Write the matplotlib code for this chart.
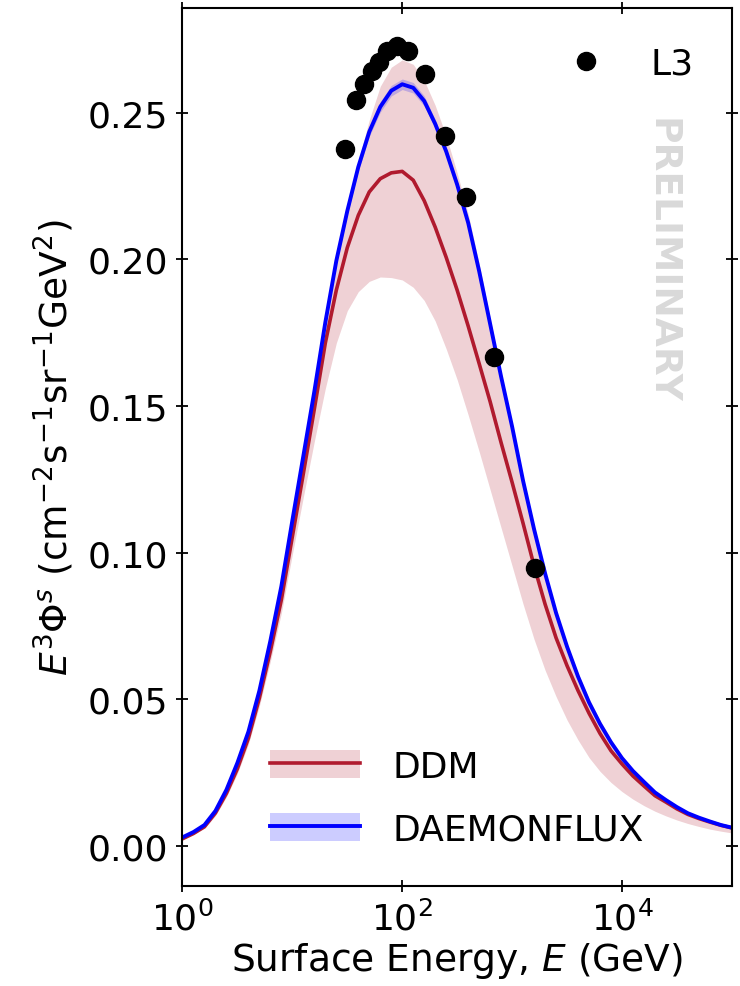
import numpy as np
import matplotlib
matplotlib.use("Agg")
import matplotlib.pyplot as plt
from matplotlib.patches import Patch
from matplotlib.lines import Line2D

# Surface energy grid (GeV), 10 points per decade
energy = [1.0, 1.259, 1.585, 1.995, 2.512, 3.162, 3.981, 5.012, 6.310, 7.943,
          10.0, 12.59, 15.85, 19.95, 25.12, 31.62, 39.81, 50.12, 63.10, 79.43,
          100.0, 125.9, 158.5, 199.5, 251.2, 316.2, 398.1, 501.2, 631.0, 794.3,
          1000.0, 1259.0, 1585.0, 1995.0, 2512.0, 3162.0, 3981.0, 5012.0, 6310.0, 7943.0,
          10000.0, 12590.0, 15850.0, 19950.0, 25120.0, 31620.0, 39810.0, 50120.0, 63100.0, 79430.0,
          100000.0]

# DAEMONFLUX central value
daemon = [0.0030, 0.0048, 0.0072, 0.0120, 0.0192, 0.0284, 0.0390, 0.0530, 0.0700, 0.0886,
          0.1110, 0.1330, 0.1550, 0.1785, 0.1995, 0.2165, 0.2315, 0.2435, 0.2520, 0.2575,
          0.2597, 0.2585, 0.2540, 0.2462, 0.2368, 0.2255, 0.2125, 0.1960, 0.1780, 0.1600,
          0.1430, 0.1245, 0.1080, 0.0930, 0.0795, 0.0680, 0.0578, 0.0490, 0.0417, 0.0354,
          0.0300, 0.0256, 0.0219, 0.0183, 0.0157, 0.0133, 0.0112, 0.0097, 0.0084, 0.0072,
          0.0063]
# DAEMONFLUX band half-width
daemon_err = [0.0003, 0.0004, 0.0005, 0.0006, 0.0006, 0.0007, 0.0007, 0.0008, 0.0008, 0.0008,
              0.0009, 0.0009, 0.0010, 0.0011, 0.0012, 0.0013, 0.0014, 0.0016, 0.0018, 0.0018,
              0.0018, 0.0018, 0.0017, 0.0015, 0.0013, 0.0012, 0.0011, 0.0010, 0.0009, 0.0009,
              0.0008, 0.0008, 0.0007, 0.0007, 0.0006, 0.0006, 0.0005, 0.0005, 0.0005, 0.0004,
              0.0004, 0.0004, 0.0004, 0.0003, 0.0003, 0.0003, 0.0003, 0.0003, 0.0003, 0.0003,
              0.0003]

# DDM central value
ddm = [0.0025, 0.0043, 0.0066, 0.0113, 0.0180, 0.0264, 0.0368, 0.0505, 0.0665, 0.0840,
       0.1055, 0.1270, 0.1490, 0.1715, 0.1895, 0.2040, 0.2150, 0.2230, 0.2275, 0.2295,
       0.2300, 0.2270, 0.2200, 0.2110, 0.2007, 0.1895, 0.1773, 0.1645, 0.1515, 0.1375,
       0.1240, 0.1100, 0.0955, 0.0825, 0.0710, 0.0615, 0.0530, 0.0453, 0.0384, 0.0325,
       0.0280, 0.0239, 0.0205, 0.0172, 0.0150, 0.0127, 0.0108, 0.0094, 0.0082, 0.0071,
       0.0062]
# DDM band lower / upper edges
ddm_lo = [0.0023, 0.0040, 0.0061, 0.0104, 0.0168, 0.0248, 0.0348, 0.0478, 0.0630, 0.0795,
          0.0995, 0.1190, 0.1380, 0.1560, 0.1715, 0.1825, 0.1890, 0.1925, 0.1940, 0.1938,
          0.1930, 0.1905, 0.1860, 0.1790, 0.1695, 0.1590, 0.1470, 0.1345, 0.1215, 0.1085,
          0.0955, 0.0825, 0.0705, 0.0600, 0.0510, 0.0430, 0.0362, 0.0302, 0.0255, 0.0217,
          0.0186, 0.0160, 0.0138, 0.0119, 0.0103, 0.0089, 0.0077, 0.0067, 0.0058, 0.0051,
          0.0045]
ddm_hi = [0.0029, 0.0047, 0.0071, 0.0120, 0.0190, 0.0280, 0.0386, 0.0523, 0.0693, 0.0875,
          0.1100, 0.1320, 0.1540, 0.1775, 0.1990, 0.2175, 0.2335, 0.2475, 0.2590, 0.2655,
          0.2680, 0.2665, 0.2610, 0.2525, 0.2420, 0.2295, 0.2155, 0.1985, 0.1800, 0.1615,
          0.1440, 0.1255, 0.1090, 0.0940, 0.0805, 0.0690, 0.0590, 0.0502, 0.0428, 0.0364,
          0.0308, 0.0263, 0.0224, 0.0188, 0.0160, 0.0136, 0.0115, 0.0099, 0.0086, 0.0074,
          0.0065]

# L3 data
l3_energy = [30.1, 37.9, 45.1, 52.7, 61.8, 73.0, 90.0, 113.4, 160.9, 244.5, 379.0, 682.0, 1611.0]
l3_flux = [0.2376, 0.2544, 0.2598, 0.2643, 0.2672, 0.2711, 0.2726, 0.2709, 0.2632,
           0.2421, 0.2211, 0.1667, 0.0948]

xticks = [1, 100, 10000]
xticklabels = [r"$10^0$", r"$10^2$", r"$10^4$"]
yticks = [0.00, 0.05, 0.10, 0.15, 0.20, 0.25]

red = "#b01a2e"
blue = "#0000ff"

fig = plt.figure(figsize=(7.4, 9.87), dpi=100)
ax = fig.add_axes([0.2466, 0.1013, 0.7424, 0.8896])

d = np.array(daemon)
de = np.array(daemon_err)
ax.fill_between(energy, ddm_lo, ddm_hi, color=red, alpha=0.2, lw=0)
ax.fill_between(energy, d - de, d + de, color=blue, alpha=0.2, lw=0)
ax.plot(energy, ddm, color=red, lw=2.6)
ax.plot(energy, daemon, color=blue, lw=2.8)
pts, = ax.plot(l3_energy, l3_flux, 'o', color='black', ms=13, ls='none')

ax.set_xscale('log')
ax.set_xlim(1, 1e5)
ax.set_ylim(-0.0136, 0.2857)
ax.set_xticks(xticks)
ax.set_xticklabels(xticklabels)
ax.xaxis.set_minor_locator(matplotlib.ticker.NullLocator())
ax.set_yticks(yticks)
ax.set_yticklabels([f"{v:.2f}" for v in yticks])
ax.tick_params(axis='both', which='major', direction='inout', length=9, width=1.3,
               labelsize=26, top=True, right=True, pad=6)
for s in ax.spines.values():
    s.set_linewidth(1.5)

ax.set_xlabel(r"Surface Energy, $E$ (GeV)", fontsize=27, labelpad=2)
ax.set_ylabel(r"$E^3\Phi^s$ (cm$^{-2}$s$^{-1}$sr$^{-1}$GeV$^2$)", fontsize=27, labelpad=8)

h_ddm = (Patch(facecolor=red, alpha=0.2, lw=0), Line2D([], [], color=red, lw=2.6))
h_dae = (Patch(facecolor=blue, alpha=0.2, lw=0), Line2D([], [], color=blue, lw=2.8))
leg1 = ax.legend([h_ddm, h_dae], ["DDM", "DAEMONFLUX"], loc='lower left',
                 bbox_to_anchor=(0.10, 0.008), frameon=False, fontsize=26,
                 handlelength=2.5, handleheight=0.85, handletextpad=0.9, labelspacing=0.8)
ax.add_artist(leg1)
ax.legend([pts], ["L3"], loc='upper right', bbox_to_anchor=(0.99, 0.993), frameon=False,
          fontsize=26, handletextpad=0.8, numpoints=1)

ax.text(0.872, 0.876, "PRELIMINARY", transform=ax.transAxes, rotation=-90,
        ha='center', va='top', fontsize=27, fontweight='bold', color='#d9d9d9')

fig.savefig("out.png", dpi=100)
